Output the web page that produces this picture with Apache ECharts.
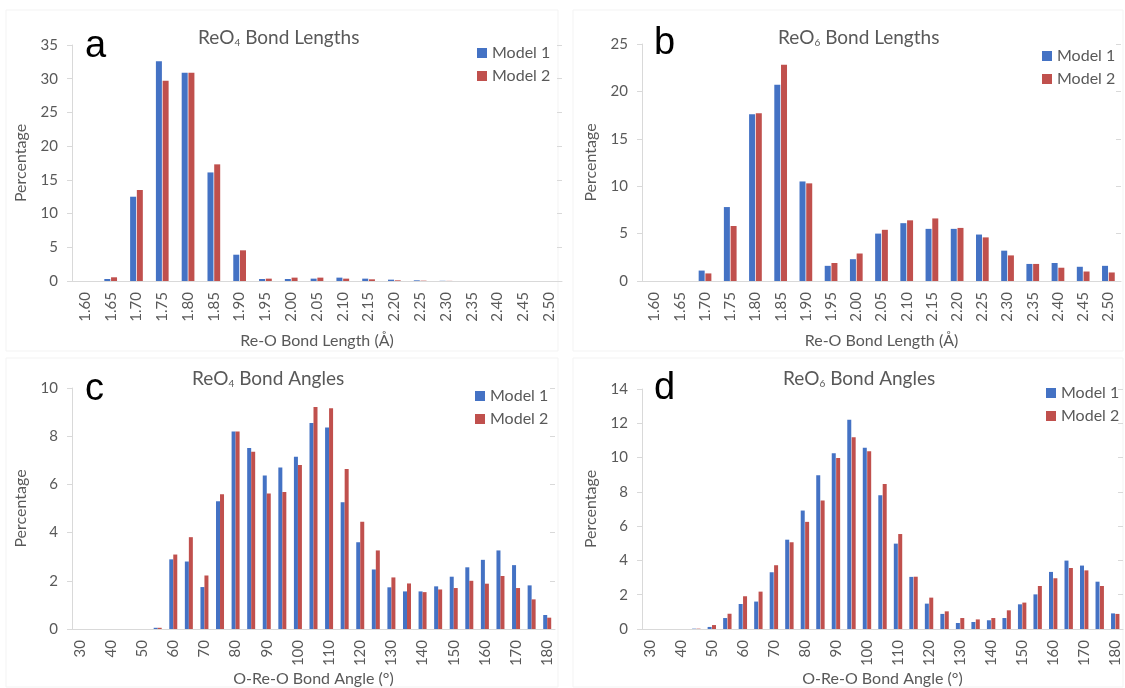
<!DOCTYPE html>
<html>
<head>
<meta charset="utf-8">
<script src="https://cdn.jsdelivr.net/npm/echarts@6/dist/echarts.min.js"></script>
<style>html,body{margin:0;padding:0;background:#fff;}#chart{width:1125px;height:688px;}</style>
</head>
<body>
<div id="chart"></div>
<script>
// ---- data ----
const lengthCats = ['1.60','1.65','1.70','1.75','1.80','1.85','1.90','1.95','2.00','2.05','2.10','2.15','2.20','2.25','2.30','2.35','2.40','2.45','2.50'];
const reo4LenModel1 = [0, 0.3, 12.5, 32.6, 30.9, 16.1, 3.9, 0.3, 0.3, 0.35, 0.5, 0.35, 0.2, 0.1, 0.03, 0, 0, 0, 0];
const reo4LenModel2 = [0, 0.55, 13.5, 29.7, 30.9, 17.3, 4.55, 0.35, 0.5, 0.5, 0.35, 0.25, 0.1, 0.05, 0.02, 0, 0, 0, 0];
const reo6LenModel1 = [0, 0, 1.1, 7.8, 17.6, 20.7, 10.5, 1.6, 2.3, 5.0, 6.1, 5.5, 5.5, 4.9, 3.2, 1.8, 1.9, 1.5, 1.6];
const reo6LenModel2 = [0, 0, 0.8, 5.8, 17.7, 22.8, 10.3, 1.9, 2.9, 5.4, 6.4, 6.6, 5.6, 4.6, 2.7, 1.8, 1.4, 1.0, 0.9];

const angleCats = ['30','35','40','45','50','55','60','65','70','75','80','85','90','95','100','105','110','115','120','125','130','135','140','145','150','155','160','165','170','175','180'];
const reo4AngModel1 = [0, 0, 0, 0, 0, 0.05, 2.89, 2.80, 1.74, 5.30, 8.19, 7.51, 6.37, 6.70, 7.15, 8.55, 8.36, 5.26, 3.60, 2.47, 1.73, 1.56, 1.56, 1.77, 2.17, 2.56, 2.87, 3.26, 2.65, 1.81, 0.58];
const reo4AngModel2 = [0, 0, 0, 0, 0, 0.05, 3.09, 3.81, 2.22, 5.59, 8.19, 7.35, 5.62, 5.68, 6.80, 9.21, 9.16, 6.64, 4.45, 3.26, 2.14, 1.89, 1.53, 1.64, 1.70, 2.00, 1.88, 2.20, 1.70, 1.23, 0.47];
const reo6AngModel1 = [0, 0, 0, 0.02, 0.12, 0.64, 1.46, 1.60, 3.31, 5.21, 6.91, 8.97, 10.25, 12.2, 10.58, 7.8, 4.98, 3.04, 1.48, 0.88, 0.35, 0.41, 0.51, 0.64, 1.44, 2.02, 3.33, 3.99, 3.70, 2.76, 0.91];
const reo6AngModel2 = [0, 0, 0, 0.02, 0.23, 0.89, 1.91, 2.18, 3.72, 5.06, 6.25, 7.49, 9.98, 11.19, 10.37, 8.46, 5.54, 3.05, 1.83, 1.03, 0.64, 0.56, 0.64, 1.09, 1.54, 2.51, 2.96, 3.56, 3.42, 2.51, 0.88];

const seriesNames = ['Model 1', 'Model 2'];
const panelLetters = ['a', 'b', 'c', 'd'];
const lengthAxisTitle = 'Re-O Bond Length (Å)';
const angleAxisTitle = 'O-Re-O Bond Angle (°)';
const yAxisTitle = 'Percentage';

// ---- styling ----
const FONT = 'Lato';
const GRAY = '#595959';
const AXIS = '#d9d9d9';
const BLUE = '#4472C4';
const RED = '#C0504D';

const grids = [
  {left: 72, top: 45, width: 490, height: 236},
  {left: 642, top: 44, width: 479, height: 237},
  {left: 72, top: 388, width: 483, height: 241},
  {left: 642, top: 389, width: 481, height: 240}
];
const yRanges = [[35, 5], [25, 5], [10, 2], [14, 2]];

const xAxes = grids.map((g, i) => {
  const isLen = i < 2;
  return {
    type: 'category', gridIndex: i,
    data: isLen ? lengthCats : angleCats,
    axisLine: {lineStyle: {color: AXIS, width: 1}},
    axisTick: {show: false},
    axisLabel: {rotate: 90, interval: isLen ? 0 : 1, margin: 11, color: GRAY, fontSize: 15, fontFamily: FONT},
    name: isLen ? lengthAxisTitle : angleAxisTitle,
    nameLocation: 'middle', nameGap: isLen ? 52 : 42,
    nameTextStyle: {color: GRAY, fontSize: 16, fontFamily: FONT}
  };
});
const yAxes = [];
grids.forEach((g, i) => {
  yAxes.push({
    type: 'value', gridIndex: i, min: 0, max: yRanges[i][0], interval: yRanges[i][1],
    axisLine: {show: true, lineStyle: {color: AXIS}},
    axisTick: {show: true, length: 5, lineStyle: {color: AXIS}},
    splitLine: {show: false},
    axisLabel: {color: GRAY, fontSize: 15, fontFamily: FONT, margin: 14},
    name: yAxisTitle, nameLocation: 'middle', nameGap: 43,
    nameTextStyle: {color: GRAY, fontSize: 16, fontFamily: FONT}
  });
});
grids.forEach((g, i) => {
  yAxes.push({
    type: 'value', gridIndex: i, min: 0, max: yRanges[i][0], interval: yRanges[i][1],
    axisLine: {show: false},
    axisTick: {show: true, inside: true, length: 5, lineStyle: {color: AXIS}},
    splitLine: {show: false}, axisLabel: {show: false}
  });
});

const panelData = [
  [reo4LenModel1, reo4LenModel2],
  [reo6LenModel1, reo6LenModel2],
  [reo4AngModel1, reo4AngModel2],
  [reo6AngModel1, reo6AngModel2]
];
const barW = [6, 6, 4, 4];
const barG = ['12%', '12%', '0%', '10%'];
const series = [];
panelData.forEach((pair, i) => {
  pair.forEach((vals, k) => {
    series.push({
      type: 'bar', name: seriesNames[k], xAxisIndex: i, yAxisIndex: i,
      data: vals, barWidth: barW[i], barGap: barG[i],
      itemStyle: {color: k === 0 ? BLUE : RED},
      emphasis: {disabled: true}
    });
  });
});

const titleStyle = {
  fontSize: 19, color: GRAY, fontWeight: 'normal', fontFamily: FONT,
  rich: {s: {fontSize: 10, color: GRAY, fontFamily: FONT, padding: [10, 0, 0, 0]}}
};
const letterStyle = {fontSize: 38, color: '#000', fontWeight: 'normal', fontFamily: 'Liberation Sans'};
const titles = [
  {text: panelLetters[0], left: 80, top: 23, textStyle: letterStyle},
  {text: panelLetters[1], left: 649, top: 20, textStyle: letterStyle},
  {text: panelLetters[2], left: 80, top: 366, textStyle: letterStyle},
  {text: panelLetters[3], left: 649, top: 365, textStyle: letterStyle},
  {text: 'ReO{s|4} Bond Lengths', left: 193, top: 23, textStyle: titleStyle},
  {text: 'ReO{s|6} Bond Lengths', left: 773, top: 23, textStyle: titleStyle},
  {text: 'ReO{s|4} Bond Angles', left: 187, top: 364, textStyle: titleStyle},
  {text: 'ReO{s|6} Bond Angles', left: 778, top: 364, textStyle: titleStyle}
];
const legendPos = [[472, 40], [1037, 43], [470, 383], [1041, 380]];
const legends = legendPos.map(p => ({
  data: seriesNames, orient: 'vertical', left: p[0], top: p[1],
  icon: 'rect', itemWidth: 10, itemHeight: 10, itemGap: 7,
  textStyle: {color: GRAY, fontSize: 16, fontFamily: FONT, lineHeight: 16},
  selectedMode: false
}));

const frames = [[6, 10, 552, 341], [573, 10, 550, 341], [6, 358, 552, 329], [573, 358, 550, 329]].map(r => ({
  type: 'rect', shape: {x: r[0], y: r[1], width: r[2], height: r[3]},
  style: {fill: 'none', stroke: '#f3f3f3', lineWidth: 1}, silent: true, z: -10
}));

const chart = echarts.init(document.getElementById('chart'), null, {renderer: 'canvas'});
chart.setOption({
  backgroundColor: '#fff',
  animation: false,
  title: titles,
  legend: legends,
  grid: grids,
  xAxis: xAxes,
  yAxis: yAxes,
  series: series,
  graphic: frames
});
</script>
</body>
</html>
